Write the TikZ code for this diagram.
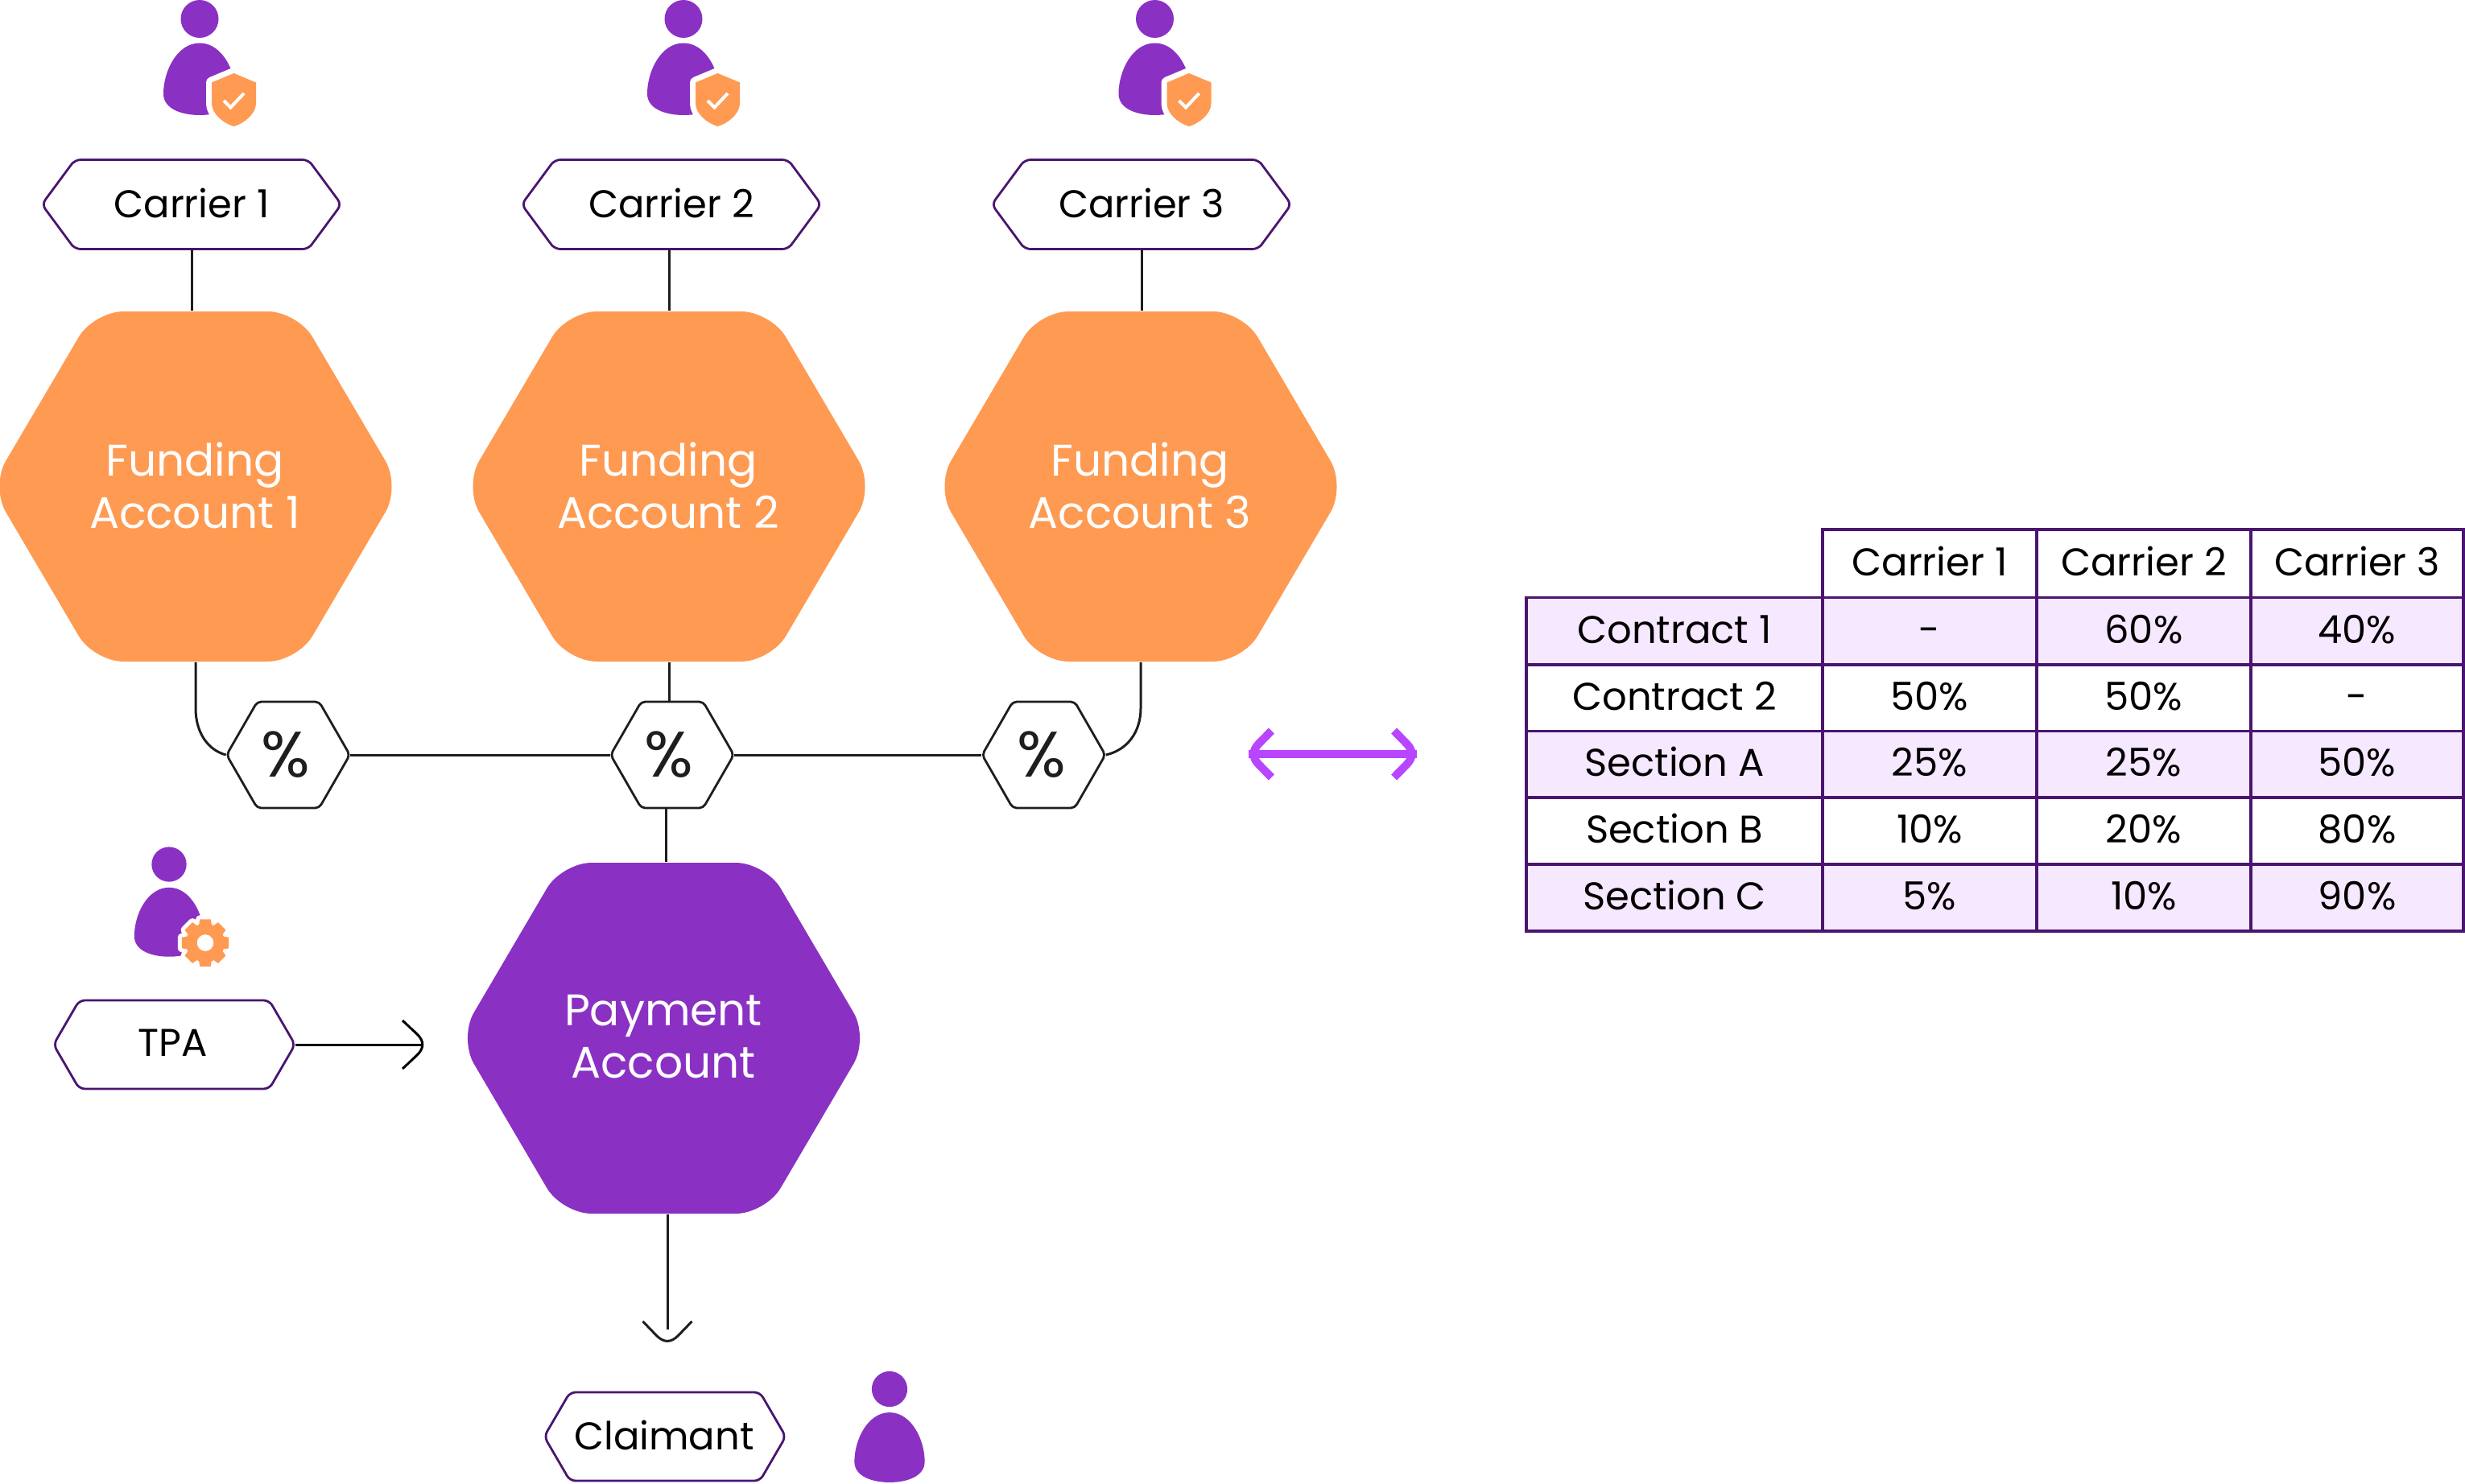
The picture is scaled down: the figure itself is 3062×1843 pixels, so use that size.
\documentclass[tikz,border=0pt]{standalone}
\usepackage{fontspec}
\setmainfont{Poppins}
\usetikzlibrary{arrows.meta,positioning}
\definecolor{orangeA}{HTML}{FF9A52}
\definecolor{purpleA}{HTML}{8A31C4}
\definecolor{edgeP}{HTML}{4A1570}
\definecolor{lineK}{HTML}{1E1E1E}
\definecolor{paleP}{HTML}{F6E8FF}
\definecolor{brightP}{HTML}{B845FF}
\pgfdeclarearrow{
  name=Chev,
  defaults={length=8pt, width=12pt, inset=2pt},
  setup code={
    \pgfarrowssettipend{0pt}
    \pgfarrowssetlineend{-\pgfarrowinset}
    \pgfarrowssetvisualbackend{-\pgfarrowlength}
    \pgfarrowssetbackend{-\pgfarrowlength}
    \pgfarrowshullpoint{0pt}{0pt}
    \pgfarrowshullpoint{-\pgfarrowlength}{.5\pgfarrowwidth}
    \pgfarrowshullpoint{-\pgfarrowlength}{-.5\pgfarrowwidth}
    \pgfarrowssavethe\pgfarrowlength
    \pgfarrowssavethe\pgfarrowwidth
    \pgfarrowssavethe\pgfarrowinset
  },
  drawing code={
    \pgfsetdash{}{0pt}
    \pgfsetroundjoin
    \pgfpathmoveto{\pgfqpoint{-\pgfarrowlength}{.5\pgfarrowwidth}}
    \pgfpathlineto{\pgfqpoint{-.45\pgfarrowlength}{.225\pgfarrowwidth}}
    \pgfpathquadraticcurveto{\pgfqpoint{0pt}{0pt}}{\pgfqpoint{-.45\pgfarrowlength}{-.225\pgfarrowwidth}}
    \pgfpathlineto{\pgfqpoint{-\pgfarrowlength}{-.5\pgfarrowwidth}}
    \pgfusepathqstroke
  },
  parameters={\the\pgfarrowlength,\the\pgfarrowwidth,\the\pgfarrowinset},
}
\tikzset{
  x=0.25pt, y=-0.25pt,
  big/.style={text=white,font=\fontsize{13.75}{16.25}\selectfont,align=center,inner sep=0pt},
  tag/.style={font=\fontsize{12}{14}\selectfont,text=black,inner sep=0pt},
  pct/.style={font=\fontsize{20}{24}\selectfont,text=lineK,inner sep=0pt},
  conn/.style={draw=lineK,line width=0.75pt},
  cell/.style={draw=edgeP,line width=0.95pt,inner sep=0pt,text=black,font=\fontsize{12}{14}\selectfont,
     text height=0.76em,text depth=0pt,align=center},
  labelbox/.style={draw=edgeP,line width=0.7pt,fill=white},
  pctbox/.style={draw=lineK,line width=0.7pt,fill=white},
}
% \hexn{name}{cx}{cy}{halfW sharp}{halfH}{inset of top corner from vertex}{radius}{shape style}
\newcommand\hexn[8]{%
  \path[#8,rounded corners=#7*0.25pt]
    (#2-#4,#3) -- (#2-#4+#6,#3-#5) -- (#2+#4-#6,#3-#5) -- (#2+#4,#3)
    -- (#2+#4-#6,#3+#5) -- (#2-#4+#6,#3+#5) -- cycle;
  \node[minimum width=2*#4*0.25pt,minimum height=2*#5*0.25pt,inner sep=0pt] (#1) at (#2,#3) {};
}
% person: head centre x,y ; scale
\newcommand\person[3]{%
  \begin{scope}[shift={(#1,#2)},xscale=#3,yscale=#3]
    \fill[purpleA] (0,0) circle[radius=23.5*#3*0.25pt];
    \fill[purpleA] (0,30) .. controls (-28,30) and (-45,65) .. (-45,93)
       .. controls (-45,112) and (-22,119.5) .. (0,119.5)
       .. controls (22,119.5) and (45,112) .. (45,93)
       .. controls (45,65) and (28,30) .. (0,30) -- cycle;
  \end{scope}}
\newcommand\shield[2]{%
  \begin{scope}[shift={(#1,#2)}]
    \def\shp{(42.5,67.5) -- (70,79) -- (70,105) .. controls (70,118) and (55,130) .. (42.5,133.5)
       .. controls (30,130) and (15,118) .. (15,105) -- (15,79) -- cycle}
    \draw[white,line width=3.5pt,line join=round,fill=white] \shp;
    \fill[orangeA] \shp;
    \draw[white,line width=1pt] (30,101.5) -- (38.5,110) -- (55,92.5);
  \end{scope}}
\begin{document}
\begin{tikzpicture}
\useasboundingbox (0,0) rectangle (3062,1843);
% hexagons
\hexn{f1}{243}{604.5}{254.5}{217.5}{128}{37}{fill=orangeA}
\hexn{f2}{831}{604.5}{254.5}{217.5}{128}{37}{fill=orangeA}
\hexn{f3}{1417}{604.5}{254.5}{217.5}{128}{37}{fill=orangeA}
\hexn{pay}{824.5}{1290}{254.5}{218}{128}{37}{fill=purpleA}
\node[big] at (242,603) {Funding\\Account 1};
\node[big] at (830,603) {Funding\\Account 2};
\node[big] at (1416,603) {Funding\\Account 3};
\node[big] at (824,1288) {Payment\\Account};
% label boxes
\hexn{c1}{238}{254}{186}{55.5}{41}{7}{labelbox}
\hexn{c2}{834}{254}{186}{55.5}{41}{7}{labelbox}
\hexn{c3}{1418}{254}{186}{55.5}{41}{7}{labelbox}
\hexn{tpa}{216.5}{1298}{150}{55}{32}{7}{labelbox}
\hexn{cl}{826}{1785}{150}{55}{32}{7}{labelbox}
\node[tag] at (238,252) {Carrier 1};
\node[tag] at (834,252) {Carrier 2};
\node[tag] at (1418,252) {Carrier 3};
\node[tag] at (215,1296) {TPA};
\node[tag] at (825,1783) {Claimant};
% percent hexes
\hexn{p1}{358}{938}{76.5}{66}{38}{5}{pctbox}
\hexn{p2}{835}{938}{76.5}{66}{38}{5}{pctbox}
\hexn{p3}{1296.5}{938}{76.5}{66}{38}{5}{pctbox}
\node[pct] at (355,938) {\%};
\node[pct] at (831,938) {\%};
\node[pct] at (1294,938) {\%};
% connectors
\draw[conn] (c1.south) -- (c1.south |- f1.north);
\draw[conn] (f2.north |- c2.south) -- (f2.north);
\draw[conn] (c3.south) -- (c3.south |- f3.north);
\draw[conn] (f1.south) -- (243,880) .. controls (243,910) and (258,932) .. (p1.west);
\draw[conn] (f3.south) -- (1417,880) .. controls (1417,910) and (1400,932) .. (p3.east);
\draw[conn] (f2.south) -- (f2.south |- p2.north);
\draw[conn] (p1.east) -- (p2.west);
\draw[conn] (p2.east) -- (p3.west);
\draw[conn] ([xshift=0.75pt]pay.north |- p2.south) -- ([xshift=0.75pt]pay.north);
\coordinate (tipA) at (532,1298);
\coordinate (tipB) at (829,1673.5);
\coordinate (dblL) at (1551,937);
\coordinate (dblR) at (1760,937);
\draw[line width=0.75pt,draw=black,-{Chev[length=8pt,width=15pt,inset=1.5pt]}] (tpa.east) -- (tipA);
\draw[line width=0.75pt,draw=lineK,-{Chev[length=7.9pt,width=15.25pt,inset=5.4pt]}] (tipB |- pay.south) -- (tipB);
\draw[line width=2.5pt,draw=brightP,{Chev[length=7.1pt,width=14.5pt,inset=0pt]}-{Chev[length=7.1pt,width=14.5pt,inset=0pt]}] (dblL) -- (dblR);
% persons
\person{248}{23.5}{1}\shield{248}{23.5}
\person{849}{23.5}{1}\shield{849}{23.5}
\person{1434.5}{23.5}{1}\shield{1434.5}{23.5}
\person{210}{1074}{0.96}
\person{1105}{1726}{0.97}
% gear
\begin{scope}[shift={(255,1171.5)}]
  \def\gearp{(-22.5:24)
    \foreach \a in {0,45,...,315}{ -- (\a-19:24) -- (\a-13:30) -- (\a+13:30) -- (\a+19:24)} -- cycle}
  \fill[white,draw=white,line width=2.5pt,line join=round] \gearp;
  \fill[orangeA,even odd rule] \gearp (0,0) circle[radius=2.6pt];
\end{scope}
% table
\foreach \n/\xa/\xb/\ya/\yb/\fc/\t in {
  h1/2264/2530/658/742.5/white/Carrier 1,
  h2/2530/2796/658/742.5/white/Carrier 2,
  h3/2796/3060/658/742.5/white/Carrier 3,
  r1a/1896/2264/742.5/826/paleP/Contract 1,
  r1b/2264/2530/742.5/826/paleP/-,
  r1c/2530/2796/742.5/826/paleP/60\%,
  r1d/2796/3060/742.5/826/paleP/40\%,
  r2a/1896/2264/826/908.5/white/Contract 2,
  r2b/2264/2530/826/908.5/white/50\%,
  r2c/2530/2796/826/908.5/white/50\%,
  r2d/2796/3060/826/908.5/white/-,
  r3a/1896/2264/908.5/991/paleP/Section A,
  r3b/2264/2530/908.5/991/paleP/25\%,
  r3c/2530/2796/908.5/991/paleP/25\%,
  r3d/2796/3060/908.5/991/paleP/50\%,
  r4a/1896/2264/991/1074/white/Section B,
  r4b/2264/2530/991/1074/white/10\%,
  r4c/2530/2796/991/1074/white/20\%,
  r4d/2796/3060/991/1074/white/80\%,
  r5a/1896/2264/1074/1157/paleP/Section C,
  r5b/2264/2530/1074/1157/paleP/5\%,
  r5c/2530/2796/1074/1157/paleP/10\%,
  r5d/2796/3060/1074/1157/paleP/90\%}{
  \node[cell,fill=\fc,minimum width=(\xb-\xa)*0.25pt,minimum height=(\yb-\ya)*0.25pt] (\n) at ({(\xa+\xb)/2},{(\ya+\yb)/2}) {\t};
}
\end{tikzpicture}
\end{document}
